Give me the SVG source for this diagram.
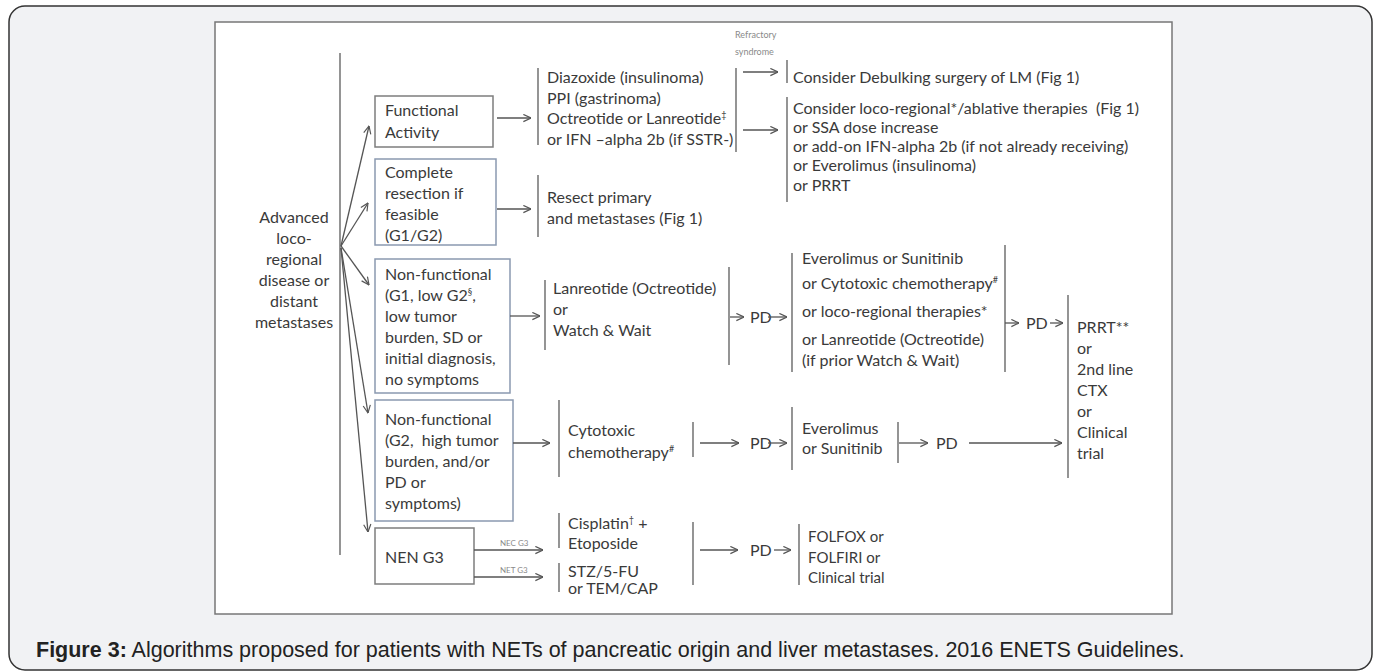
<svg xmlns="http://www.w3.org/2000/svg" width="1380" height="671" viewBox="0 0 1380 671">
<defs>
<style>
.t{font-family:Lato,"Liberation Sans",sans-serif;font-size:16px;fill:#3a3a3a}
.tc{text-anchor:middle}
.sm{font-family:Lato,"Liberation Sans",sans-serif;font-size:9px;fill:#8a8a8a}
.box{fill:#fff;stroke:#8a99b0;stroke-width:1.5}
.boxg{fill:#fff;stroke:#7d7d7d;stroke-width:1.5}
.bar{stroke:#7a7a7a;stroke-width:1.6;fill:none}
.c{stroke:#555;stroke-width:1.3;fill:none;marker-end:url(#a)}
.cap{font-family:"Liberation Sans",Arial,sans-serif;font-size:21.5px;fill:#222}
</style>
<marker id="a" viewBox="0 0 10 10" refX="9.5" refY="5" markerWidth="9" markerHeight="9" markerUnits="userSpaceOnUse" orient="auto">
<path d="M1,1 L9.5,5 L1,9" fill="none" stroke="#555" stroke-width="1.3"/>
</marker>
</defs>

<rect x="9" y="6" width="1363" height="664" rx="16" fill="#f1f2f4" stroke="#333" stroke-width="1.5"/>
<rect x="215" y="22" width="957" height="592" fill="#fff" stroke="#777" stroke-width="1.5"/>

<g id="n-advanced">
<line class="bar" x1="340" y1="53" x2="340" y2="555"/>
<text class="t tc" x="294"><tspan x="294" y="223">Advanced</tspan><tspan x="294" y="244">loco-</tspan><tspan x="294" y="265">regional</tspan><tspan x="294" y="286">disease or</tspan><tspan x="294" y="307">distant</tspan><tspan x="294" y="328">metastases</tspan></text>
</g>

<g id="n-functional">
<rect class="boxg" x="375" y="96" width="118" height="51"/>
<text class="t"><tspan x="385" y="116">Functional</tspan><tspan x="385" y="138">Activity</tspan></text>
</g>

<g id="n-complete">
<rect class="box" x="375" y="159" width="121" height="86"/>
<text class="t"><tspan x="385" y="178">Complete</tspan><tspan x="385" y="199">resection if</tspan><tspan x="385" y="220">feasible</tspan><tspan x="385" y="241">(G1/G2)</tspan></text>
</g>

<g id="n-nf1">
<rect class="box" x="375" y="259" width="135" height="134"/>
<text class="t"><tspan x="385" y="280">Non-functional</tspan><tspan x="385" y="301">(G1, low G2</tspan><tspan dy="-6" font-size="9">§</tspan><tspan dy="6">,</tspan><tspan x="385" y="322">low tumor</tspan><tspan x="385" y="343">burden, SD or</tspan><tspan x="385" y="364">initial diagnosis,</tspan><tspan x="385" y="385">no symptoms</tspan></text>
</g>

<g id="n-nf2">
<rect class="box" x="375" y="400" width="138" height="121"/>
<text class="t" xml:space="preserve"><tspan x="385" y="425">Non-functional</tspan><tspan x="385" y="446">(G2,  high tumor</tspan><tspan x="385" y="467">burden, and/or</tspan><tspan x="385" y="488">PD or</tspan><tspan x="385" y="509">symptoms)</tspan></text>
</g>

<g id="n-nen">
<rect class="boxg" x="375" y="528" width="99" height="56"/>
<text class="t" x="385" y="563">NEN G3</text>
</g>

<g id="n-diazoxide">
<line class="bar" x1="538" y1="68" x2="538" y2="145"/>
<line class="bar" x1="736" y1="68" x2="736" y2="152"/>
<text class="t"><tspan x="547" y="83">Diazoxide (insulinoma)</tspan><tspan x="547" y="104">PPI (gastrinoma)</tspan><tspan x="547" y="124">Octreotide or Lanreotide</tspan><tspan dy="-6" font-size="9">‡</tspan><tspan x="547" y="145">or IFN –alpha 2b (if SSTR-)</tspan></text>
</g>

<g id="n-refractory">
<text class="sm"><tspan x="735" y="38">Refractory</tspan><tspan x="735" y="55">syndrome</tspan></text>
</g>

<g id="n-resect">
<line class="bar" x1="538" y1="175" x2="538" y2="237"/>
<text class="t"><tspan x="547" y="203">Resect primary</tspan><tspan x="547" y="224">and metastases (Fig 1)</tspan></text>
</g>

<g id="n-debulking">
<line class="bar" x1="787" y1="60" x2="787" y2="83"/>
<text class="t" x="793" y="83">Consider Debulking surgery of LM (Fig 1)</text>
</g>

<g id="n-locoregional">
<line class="bar" x1="787" y1="97" x2="787" y2="202"/>
<text class="t" xml:space="preserve"><tspan x="793" y="114">Consider loco-regional*/ablative therapies  (Fig 1)</tspan><tspan x="793" y="133">or SSA dose increase</tspan><tspan x="793" y="152">or add-on IFN-alpha 2b (if not already receiving)</tspan><tspan x="793" y="171">or Everolimus (insulinoma)</tspan><tspan x="793" y="191">or PRRT</tspan></text>
</g>

<g id="n-lanreotide">
<line class="bar" x1="545" y1="280" x2="545" y2="350"/>
<line class="bar" x1="729" y1="267" x2="729" y2="365"/>
<text class="t"><tspan x="553" y="294">Lanreotide (Octreotide)</tspan><tspan x="553" y="315">or</tspan><tspan x="553" y="336">Watch &amp; Wait</tspan></text>
</g>

<g id="n-everolimus1">
<line class="bar" x1="792" y1="253" x2="792" y2="372"/>
<line class="bar" x1="1005" y1="245" x2="1005" y2="372"/>
<text class="t"><tspan x="802" y="264">Everolimus or Sunitinib</tspan><tspan x="802" y="289">or Cytotoxic chemotherapy</tspan><tspan dy="-6" font-size="9">#</tspan><tspan x="802" y="317">or loco-regional therapies*</tspan><tspan x="802" y="345">or Lanreotide (Octreotide)</tspan><tspan x="802" y="366">(if prior Watch &amp; Wait)</tspan></text>
</g>

<g id="n-prrt">
<line class="bar" x1="1068" y1="295" x2="1068" y2="478"/>
<text class="t"><tspan x="1077" y="333">PRRT**</tspan><tspan x="1077" y="354">or</tspan><tspan x="1077" y="375">2nd line</tspan><tspan x="1077" y="396">CTX</tspan><tspan x="1077" y="417">or</tspan><tspan x="1077" y="438">Clinical</tspan><tspan x="1077" y="459">trial</tspan></text>
</g>

<g id="n-cytotoxic">
<line class="bar" x1="559" y1="400" x2="559" y2="477"/>
<line class="bar" x1="693" y1="422" x2="693" y2="457"/>
<text class="t"><tspan x="568" y="436">Cytotoxic</tspan><tspan x="568" y="458">chemotherapy</tspan><tspan dy="-6" font-size="9">#</tspan></text>
</g>

<g id="n-everolimus2">
<line class="bar" x1="792" y1="407" x2="792" y2="470"/>
<line class="bar" x1="898" y1="422" x2="898" y2="463"/>
<text class="t"><tspan x="802" y="434">Everolimus</tspan><tspan x="802" y="454">or Sunitinib</tspan></text>
</g>

<g id="n-cisplatin">
<line class="bar" x1="559" y1="513" x2="559" y2="548"/>
<text class="t"><tspan x="568" y="529">Cisplatin</tspan><tspan dy="-6" font-size="9">†</tspan><tspan dy="6"> +</tspan><tspan x="568" y="549">Etoposide</tspan></text>
</g>

<g id="n-stz">
<line class="bar" x1="559" y1="563" x2="559" y2="592"/>
<line class="bar" x1="693" y1="522" x2="693" y2="585"/>
<text class="t"><tspan x="568" y="577">STZ/5-FU</tspan><tspan x="568" y="594">or TEM/CAP</tspan></text>
</g>

<g id="n-folfox">
<line class="bar" x1="799" y1="524" x2="799" y2="585"/>
<text class="t" style="font-size:15px"><tspan x="808" y="542">FOLFOX or</tspan><tspan x="808" y="563">FOLFIRI or</tspan><tspan x="808" y="583">Clinical trial</tspan></text>
</g>

<g id="connectors">
<line class="c" x1="341" y1="246" x2="369" y2="126"/>
<line class="c" x1="341" y1="246" x2="368" y2="203"/>
<line class="c" x1="341" y1="246" x2="369" y2="285"/>
<line class="c" x1="341" y1="248" x2="368" y2="413"/>
<line class="c" x1="341" y1="248" x2="368" y2="532"/>
<line class="c" x1="497" y1="118" x2="531" y2="118"/>
<line class="c" x1="497" y1="209" x2="531" y2="209"/>
<line class="c" x1="510" y1="316" x2="540" y2="316"/>
<line class="c" x1="513" y1="443" x2="550" y2="443"/>
<line class="c" x1="474" y1="550" x2="543" y2="550"/>
<line class="c" x1="474" y1="577" x2="543" y2="577"/>
<text class="sm" style="font-size:8px" x="500" y="546">NEC G3</text>
<text class="sm" style="font-size:8px" x="500" y="573">NET G3</text>
<line class="c" x1="743" y1="72" x2="778" y2="72"/>
<line class="c" x1="743" y1="130" x2="778" y2="130"/>
<line class="c" x1="730" y1="317" x2="744" y2="317"/>
<text class="t" x="750" y="323">PD</text>
<line class="c" x1="768" y1="317" x2="787" y2="317"/>
<line class="c" x1="1005" y1="323" x2="1019" y2="323"/>
<text class="t" x="1026" y="329">PD</text>
<line class="c" x1="1050" y1="323" x2="1063" y2="323"/>
<line class="c" x1="700" y1="443" x2="739" y2="443"/>
<text class="t" x="750" y="449">PD</text>
<line class="c" x1="768" y1="443" x2="787" y2="443"/>
<line class="c" x1="899" y1="443" x2="928" y2="443"/>
<text class="t" x="936" y="449">PD</text>
<line class="c" x1="969" y1="443" x2="1062" y2="443"/>
<line class="c" x1="700" y1="550" x2="738" y2="550"/>
<text class="t" x="750" y="556">PD</text>
<line class="c" x1="774" y1="550" x2="791" y2="550"/>
</g>

<text class="cap" x="36" y="657"><tspan font-weight="bold">Figure 3:</tspan> Algorithms proposed for patients with NETs of pancreatic origin and liver metastases. 2016 ENETS Guidelines.</text>
</svg>
